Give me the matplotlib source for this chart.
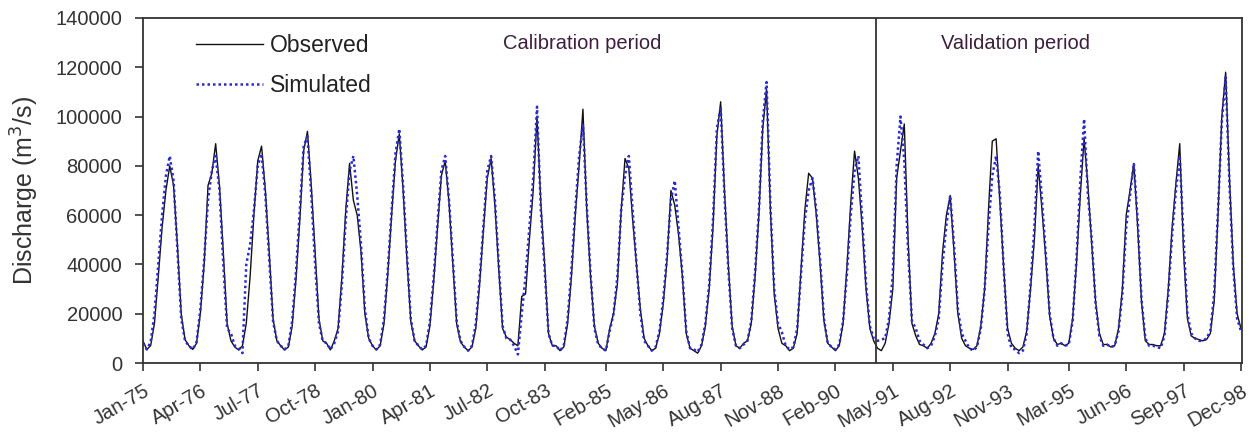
import matplotlib
matplotlib.use('Agg')
import matplotlib.pyplot as plt
import numpy as np
from datetime import datetime

plt.rcParams['font.family'] = ['Liberation Sans', 'DejaVu Sans']

# monthly discharge (m3/s), Jan-1975 .. Dec-1998, one row per year
observed = [
    9000, 5500, 7000, 16000, 35000, 55000, 70000, 80000, 72000, 48000, 20000, 9500,     # 1975
    7000, 5500, 8000, 20000, 40000, 72000, 77000, 89000, 72000, 45000, 16000, 9000,     # 1976
    6500, 5300, 7000, 16000, 35000, 60000, 82000, 88000, 70000, 45000, 18000, 9000,     # 1977
    7000, 5300, 6500, 15000, 34000, 58000, 86000, 94000, 72000, 45000, 18000, 9000,     # 1978
    8000, 5300, 9000, 14000, 35000, 62000, 81000, 66000, 60000, 45000, 20000, 10000,    # 1979
    7000, 5300, 7000, 16000, 36000, 60000, 82000, 93000, 70000, 42000, 17000, 9000,     # 1980
    7000, 5300, 6500, 15000, 33000, 55000, 76000, 82000, 65000, 40000, 16000, 8500,     # 1981
    6500, 5000, 6500, 14000, 32000, 54000, 75000, 83000, 64000, 38000, 14000, 10500,    # 1982
    9500, 8000, 7000, 27000, 28000, 50000, 70000, 100000, 65000, 40000, 12000, 7000,    # 1983
    7000, 5000, 6500, 16000, 35000, 60000, 80000, 103000, 62000, 35000, 15000, 8000,    # 1984
    6000, 5000, 14000, 20000, 32000, 62000, 83000, 79000, 58000, 40000, 22000, 10000,   # 1985
    7000, 5000, 6000, 12000, 24000, 42000, 70000, 64000, 52000, 35000, 12000, 6000,     # 1986
    5000, 4000, 7000, 15000, 30000, 55000, 92000, 106000, 70000, 40000, 15000, 7000,    # 1987
    6000, 8000, 9000, 16000, 35000, 60000, 95000, 111000, 62000, 28000, 14000, 8000,    # 1988
    7000, 5000, 6000, 12000, 38000, 62000, 77000, 75000, 60000, 40000, 17000, 8000,     # 1989
    6500, 5000, 7000, 16000, 39000, 65000, 86000, 75000, 55000, 30000, 14000, 9000,     # 1990
    6000, 5000, 8000, 16000, 30000, 75000, 86000, 97000, 50000, 16000, 11000, 7500,     # 1991
    7000, 6000, 8000, 12000, 20000, 45000, 60000, 68000, 45000, 20000, 10000, 7000,     # 1992
    6000, 5500, 7000, 15000, 30000, 62000, 90000, 91000, 65000, 38000, 14000, 8000,     # 1993
    6000, 5000, 6500, 13000, 30000, 50000, 80000, 62000, 42000, 19000, 10000, 7500,     # 1994
    8000, 7000, 8000, 18000, 40000, 68000, 91000, 72000, 48000, 25000, 12000, 7500,     # 1995
    7500, 6500, 7000, 14000, 30000, 60000, 70000, 81000, 55000, 25000, 9000, 7500,      # 1996
    7500, 7000, 7000, 12000, 30000, 55000, 73000, 89000, 45000, 18000, 11000, 10000,    # 1997
    9500, 9000, 9500, 12000, 25000, 60000, 100000, 118000, 75000, 40000, 20000, 14000,  # 1998
]
simulated = [
    8000, 5500, 8500, 20000, 40000, 60000, 76000, 84000, 74000, 46000, 18000, 9000,     # 1975
    7000, 5500, 8500, 22000, 42000, 66000, 78000, 84000, 70000, 40000, 14000, 12000,    # 1976
    7000, 6000, 4000, 40000, 48000, 62000, 80000, 85000, 68000, 42000, 17000, 9000,     # 1977
    7000, 5500, 7000, 17000, 37000, 62000, 88000, 92000, 68000, 40000, 16000, 9000,     # 1978
    8000, 5500, 8000, 13000, 32000, 58000, 78000, 84000, 68000, 48000, 22000, 10000,    # 1979
    7000, 5500, 7500, 18000, 38000, 62000, 85000, 95000, 72000, 44000, 18000, 9000,     # 1980
    7000, 5500, 7000, 17000, 35000, 57000, 78000, 84000, 66000, 42000, 17000, 9000,     # 1981
    6500, 5000, 7000, 16000, 34000, 56000, 78000, 84000, 66000, 40000, 15000, 10000,    # 1982
    9500, 7000, 3500, 20000, 35000, 55000, 75000, 104000, 62000, 38000, 12000, 7000,    # 1983
    7000, 5000, 7000, 18000, 38000, 62000, 84000, 97000, 64000, 36000, 14000, 7500,     # 1984
    6000, 5000, 13000, 20000, 35000, 62000, 76000, 84000, 62000, 40000, 20000, 9000,    # 1985
    7000, 5000, 6500, 13000, 26000, 44000, 66000, 74000, 55000, 36000, 13000, 6000,     # 1986
    5500, 4500, 7500, 16000, 32000, 58000, 95000, 104000, 68000, 38000, 14000, 7000,    # 1987
    6000, 7500, 9000, 17000, 37000, 62000, 98000, 114000, 64000, 30000, 16000, 12500,   # 1988
    7000, 5500, 6500, 14000, 36000, 58000, 70000, 75000, 62000, 42000, 18000, 8000,     # 1989
    6500, 5500, 7500, 17000, 36000, 60000, 78000, 84000, 58000, 32000, 15000, 10000,    # 1990
    9000, 9500, 10000, 18000, 36000, 80000, 100000, 82000, 45000, 17000, 14000, 9000,   # 1991
    7500, 6000, 7000, 11000, 18000, 40000, 56000, 68000, 48000, 22000, 12000, 9000,     # 1992
    6000, 5000, 6500, 14000, 30000, 55000, 76000, 84000, 68000, 38000, 12000, 6000,     # 1993
    5500, 4000, 5000, 12000, 32000, 55000, 86000, 66000, 44000, 20000, 10000, 7000,     # 1994
    8000, 7000, 7500, 17000, 42000, 74000, 99000, 68000, 50000, 24000, 11000, 7000,     # 1995
    7500, 6500, 7000, 13000, 28000, 55000, 68000, 81000, 58000, 26000, 10000, 7000,     # 1996
    7000, 6500, 6000, 11000, 28000, 52000, 70000, 84000, 50000, 20000, 12000, 10000,    # 1997
    9000, 9000, 10000, 13000, 28000, 62000, 98000, 116000, 72000, 38000, 18000, 13000,  # 1998
]
tick_labels = ['Jan-75', 'Apr-76', 'Jul-77', 'Oct-78', 'Jan-80', 'Apr-81', 'Jul-82',
               'Oct-83', 'Feb-85', 'May-86', 'Aug-87', 'Nov-88', 'Feb-90', 'May-91',
               'Aug-92', 'Nov-93', 'Mar-95', 'Jun-96', 'Sep-97', 'Dec-98']
start_year = 1975
validation_start = 'Jan-91'


def month_index(label):
    d = datetime.strptime(label, '%b-%y')
    return (d.year - start_year) * 12 + d.month - 1


x = np.arange(len(observed))
tick_pos = [month_index(t) for t in tick_labels]

fig = plt.figure(figsize=(12.53, 4.44), dpi=100)
ax = fig.add_axes([0.1141, 0.1824, 0.8769, 0.7771])

ax.plot(x, observed, color='#111111', lw=1.0, label='Observed')
ax.plot(x, simulated, color='#2a2ad0', lw=1.8, ls=(0, (1, 1.2)), label='Simulated')
ax.axvline(month_index(validation_start) - 0.4, color='#333333', lw=1.3)

ax.set_xlim(0, 287.2)
ax.set_ylim(0, 140000)
ax.set_yticks(np.arange(0, 140001, 20000))
ax.set_xticks(tick_pos)
ax.set_xticklabels(tick_labels, rotation=30, ha='right', rotation_mode='anchor')
ax.tick_params(axis='both', direction='out', length=6, width=1.2,
               color='#333333', labelsize=14.5, labelcolor='#333333')
ax.tick_params(axis='y', pad=9)
ax.tick_params(axis='x', pad=7)
for s in ax.spines.values():
    s.set_color('#333333')
    s.set_linewidth(1.3)

ax.set_ylabel('Discharge (m$^3$/s)', fontsize=18, color='#333333')
ax.yaxis.set_label_coords(-0.093, 0.5)

ax.text(0.40, 0.925, 'Calibration period', transform=ax.transAxes,
        ha='center', va='center', fontsize=14.5, color='#3d1f3d')
ax.text(0.794, 0.925, 'Validation period', transform=ax.transAxes,
        ha='center', va='center', fontsize=14.5, color='#3d1f3d')

ax.legend(loc='upper left', bbox_to_anchor=(0.034, 1.0), frameon=False,
          fontsize=16.5, handlelength=2.9, handletextpad=0.3, labelspacing=0.75,
          borderaxespad=0.3, labelcolor='#222222')

fig.savefig('out.png', dpi=100)
